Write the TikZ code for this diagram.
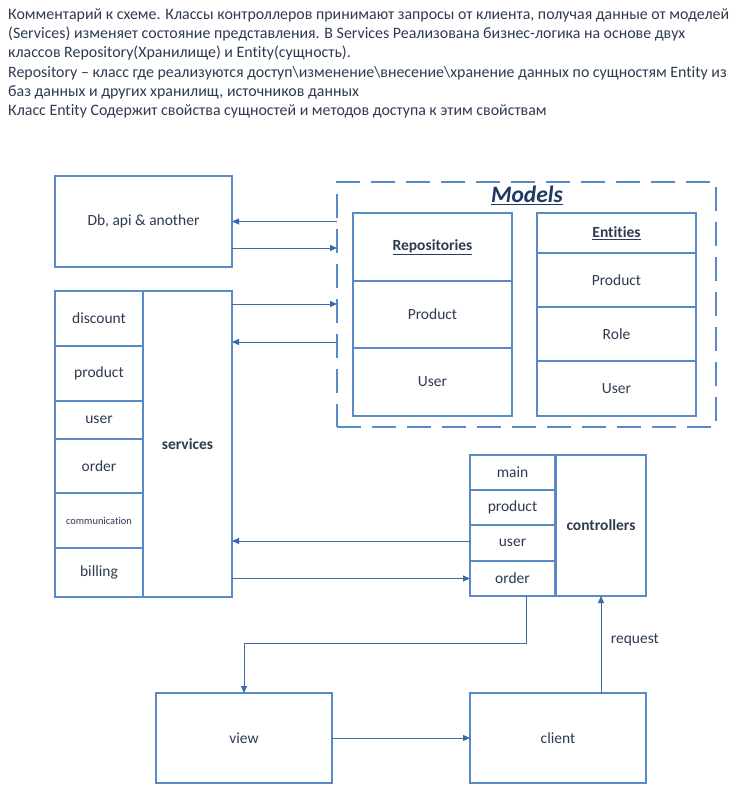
\documentclass[tikz,border=0pt]{standalone}
\usepackage{fontspec}
\setmainfont{Carlito}[Ligatures={NoCommon}]
\usetikzlibrary{arrows.meta}
\definecolor{boxc}{RGB}{88,138,198}
\definecolor{arrc}{RGB}{58,108,170}
\definecolor{txtc}{RGB}{45,58,80}
\definecolor{navy}{RGB}{31,56,100}
\tikzset{
  cell/.style={draw=boxc, line width=1.5pt, inner sep=0pt, outer sep=0pt, text=txtc, font=\fontsize{15.5}{17}\selectfont, align=center},
  thick box/.style={cell, line width=2.8pt},
  arr/.style={draw=arrc, line width=1pt, -{Triangle[length=7pt,width=6pt]}},
  note/.style={anchor=west, inner sep=0pt, text=txtc, font=\fontsize{15.9}{18}\selectfont},
}
\begin{document}
\begin{tikzpicture}[x=1pt,y=-1pt]
\useasboundingbox (0,0) rectangle (747,785);
% top comment
\node[note] (t1) at (8,15) {Комментарий к схеме. Классы контроллеров принимают запросы от клиента, получая данные от моделей};
\node[note] (t2) at (8,34) {(Services) изменяет состояние представления. В Services Реализована бизнес-логика на основе двух};
\node[note] (t3) at (8,53) {классов Repository(Хранилище) и Entity(сущность).};
\node[note] (t4) at (8,73) {Repository – класс где реализуются доступ\textbackslash изменение\textbackslash внесение\textbackslash хранение данных по сущностям Entity из};
\node[note] (t5) at (8,92) {баз данных и других хранилищ, источников данных};
\node[note] (t6) at (8,111) {Класс Entity Содержит свойства сущностей и методов доступа к этим свойствам};
% Db
\node[thick box, minimum width=177pt, minimum height=91pt] (db) at (143.5,221.5) {Db, api \& another};
% Models
\node[draw=boxc, line width=1.8pt, dash pattern=on 24pt off 11pt, minimum width=379pt, minimum height=245pt, inner sep=0pt, outer sep=0pt] (models) at (526.5,304.5) {};
\node[text=navy, font=\fontsize{23.5}{25}\selectfont\bfseries\itshape, inner sep=0pt] (mtitle) at (527,195) {\underline{Models}};
% Repositories
\node[cell, minimum width=159pt, minimum height=68pt, font=\fontsize{15.5}{17}\selectfont\bfseries] (rhead) at (432.5,247) {\underline{Repositories}};
\node[cell, minimum width=159pt, minimum height=67pt] (rprod) at (432.5,314.5) {Product};
\node[cell, minimum width=159pt, minimum height=68pt] (ruser) at (432.5,382) {User};
% Entities
\node[cell, minimum width=159pt, minimum height=40pt, font=\fontsize{15.5}{17}\selectfont\bfseries] (ehead) at (616.5,233) {\underline{Entities}};
\node[cell, minimum width=159pt, minimum height=54pt] (eprod) at (616.5,280) {Product};
\node[cell, minimum width=159pt, minimum height=54pt] (erole) at (616.5,334) {Role};
\node[cell, minimum width=159pt, minimum height=55pt] (euser) at (616.5,388.5) {User};
% Services
\node[cell, minimum width=89pt, minimum height=306pt, font=\fontsize{15.5}{17}\selectfont\bfseries] (srv) at (187.5,444) {services};
\node[cell, minimum width=88pt, minimum height=55pt] (sdisc) at (99,318.5) {discount};
\node[cell, minimum width=88pt, minimum height=55pt] (sprod) at (99,373.5) {product};
\node[cell, minimum width=88pt, minimum height=38pt] (suser) at (99,420) {user};
\node[cell, minimum width=88pt, minimum height=54pt] (sorder) at (99,466) {order};
\node[cell, minimum width=88pt, minimum height=55pt, font=\fontsize{10.4}{12}\selectfont] (scomm) at (99,520.5) {communication};
\node[cell, minimum width=88pt, minimum height=49pt] (sbill) at (99,572.5) {billing};
% Controllers
\node[cell, minimum width=90pt, minimum height=141pt, font=\fontsize{15.5}{17}\selectfont\bfseries] (ctrl) at (601,525.5) {controllers};
\node[cell, minimum width=85pt, minimum height=35pt] (cmain) at (512.5,472.5) {main};
\node[cell, minimum width=85pt, minimum height=35pt] (cprod) at (512.5,507.5) {product};
\node[cell, minimum width=85pt, minimum height=36pt] (cuser) at (512.5,543) {user};
\node[cell, minimum width=85pt, minimum height=35pt] (corder) at (512.5,578.5) {order};
% view / client
\node[thick box, minimum width=176pt, minimum height=90pt] (view) at (244,738) {view};
\node[thick box, minimum width=176pt, minimum height=90pt] (client) at (558,738) {client};
% connectors
\draw[arr] (models.west |- db.east) -- (db.east);
\draw[arr] ([yshift=-26.5pt]db.east) coordinate (d2) -- (d2 -| models.west);
\draw[arr] ([yshift=-13pt]srv.north east) coordinate (s1) -- (s1 -| models.west);
\draw[arr] ([yshift=-51pt]srv.north east -| models.west) coordinate (s2) -- (s2 -| srv.east);
\draw[arr] ([yshift=2pt]cuser.west) coordinate (c1) -- (c1 -| srv.east);
\draw[arr] (srv.east |- corder.west) -- (corder.west);
\draw[arr] ([xshift=13.5pt]corder.south) -- ++(0,47) -| (view.north);
\draw[arr] (view.east) -- (client.west);
\draw[arr] (ctrl.south |- client.north) -- (ctrl.south) node[pos=0.55, right=6pt, text=txtc, font=\fontsize{15.5}{17}\selectfont] (req) {request};
\end{tikzpicture}
\end{document}
